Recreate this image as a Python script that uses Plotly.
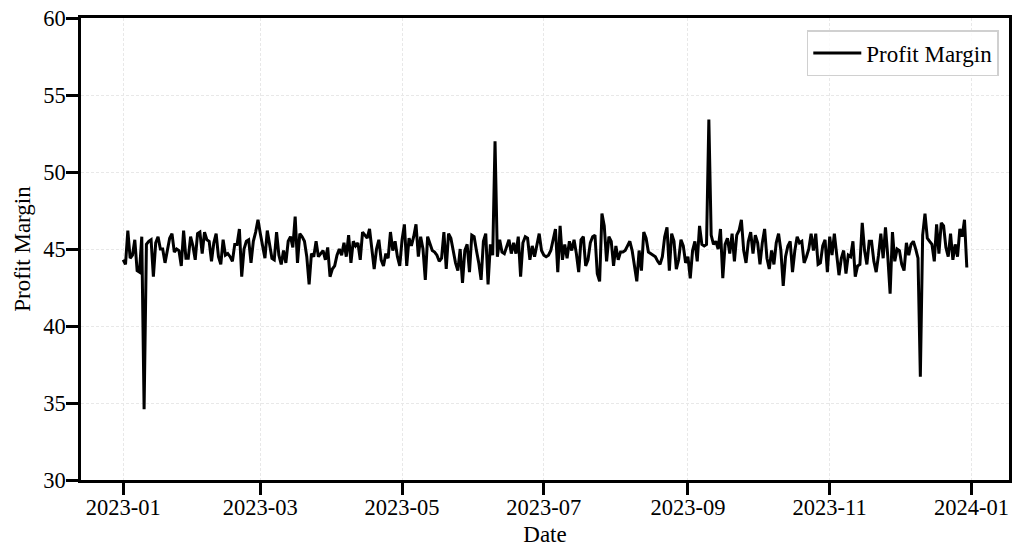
import pandas as pd
import plotly.graph_objects as go

# daily profit margin, 2023-01-01 .. 2023-12-30
start_date = "2023-01-01"
jan_feb = [44.3, 44.0, 46.2, 44.4, 44.6, 45.6, 43.6, 43.5, 45.8, 34.6,
           45.3, 45.5, 45.6, 43.2, 45.4, 45.8, 45.0, 45.0, 44.1, 44.9,
           45.7, 46.0, 44.8, 45.0, 44.9, 43.9, 46.2, 44.4, 44.4, 45.8,
           45.2, 44.3, 46.0, 46.1, 44.7, 46.1, 45.6, 45.5, 44.2, 45.4,
           46.0, 44.5, 44.0, 45.6, 44.6, 44.7, 44.5, 44.2, 45.3, 45.3,
           46.3, 43.2, 45.0, 45.5, 45.6, 44.1, 45.5, 46.1, 46.9]
mar_apr = [46.0, 45.2, 44.4, 46.2, 45.3, 44.4, 44.3, 46.1, 44.6, 44.0,
           44.9, 44.1, 45.5, 45.8, 45.1, 47.1, 44.1, 46.0, 45.8, 45.5,
           44.5, 42.7, 44.7, 44.5, 45.5, 44.5, 44.7, 44.9, 44.3, 45.1,
           43.2, 43.7, 43.9, 44.6, 45.0, 44.6, 45.4, 44.5, 45.9, 44.1,
           45.5, 45.2, 45.4, 44.3, 46.1, 45.9, 45.7, 46.3, 44.9, 43.7,
           45.0, 45.6, 44.3, 43.9, 44.7, 44.4, 46.1, 44.9, 45.5, 44.5]
may_jun = [43.9, 45.6, 46.6, 43.9, 45.7, 45.2, 45.8, 46.6, 44.5, 45.8,
           45.0, 43.0, 45.8, 45.3, 44.9, 44.8, 44.6, 44.2, 44.4, 46.1,
           43.7, 46.0, 45.7, 44.9, 44.1, 43.6, 45.0, 42.8, 44.9, 45.3,
           43.5, 45.9, 45.8, 44.9, 44.1, 43.0, 45.5, 46.0, 42.7, 45.3,
           44.6, 52.0, 44.5, 45.6, 44.8, 44.7, 45.2, 45.6, 44.7, 45.4,
           44.7, 45.8, 43.2, 45.4, 45.8, 45.7, 44.3, 45.2, 44.5, 45.3,
           46.0, 44.9]
jul_aug = [44.6, 44.5, 44.6, 44.9, 45.7, 46.3, 43.5, 46.5, 44.3, 45.3,
           44.4, 45.5, 44.9, 45.6, 44.7, 43.5, 45.6, 45.8, 43.9, 44.3,
           45.4, 45.8, 45.9, 43.4, 42.9, 47.3, 46.5, 44.2, 45.8, 45.5,
           43.9, 45.2, 44.3, 44.8, 44.8, 44.9, 45.2, 45.5, 44.9, 44.0,
           42.9, 44.9, 43.6, 46.1, 45.7, 44.8, 44.7, 44.6, 44.5, 44.2,
           44.0, 44.5, 45.8, 46.4, 43.6, 46.0, 45.5, 43.7, 44.3, 45.6,
           45.2, 44.1]
sep_oct = [44.5, 43.1, 44.9, 45.5, 44.2, 46.5, 45.3, 45.2, 45.3, 53.4,
           45.9, 45.3, 45.5, 45.0, 46.3, 43.1, 45.3, 45.7, 44.7, 46.0,
           44.2, 45.9, 46.2, 46.9, 44.9, 44.1, 45.5, 46.1, 44.7, 45.9,
           45.4, 44.0, 45.4, 46.3, 44.4, 43.7, 44.9, 44.0, 45.4, 46.0,
           44.9, 42.6, 44.5, 45.2, 45.5, 43.5, 44.9, 45.8, 45.4, 45.5,
           44.1, 44.5, 45.0, 46.0, 44.9, 46.0, 44.0, 44.1, 45.2, 45.6,
           43.5]
nov_dec = [45.8, 44.6, 46.0, 44.5, 43.3, 44.4, 44.9, 43.4, 44.6, 44.5,
           45.5, 43.2, 43.9, 44.0, 46.7, 44.9, 44.0, 45.5, 45.5, 44.2,
           43.5, 44.6, 46.0, 44.4, 46.4, 44.5, 42.1, 46.1, 44.2, 45.0,
           44.9, 44.0, 43.6, 45.4, 44.6, 45.3, 45.5, 45.0, 44.4, 36.7,
           45.9, 47.3, 45.7, 45.5, 45.3, 44.2, 46.6, 44.7, 46.7, 46.5,
           45.1, 44.5, 46.0, 44.3, 45.3, 44.5, 46.3, 45.8, 46.9, 43.8]

profit_margin = jan_feb + mar_apr + may_jun + jul_aug + sep_oct + nov_dec
dates = pd.date_range(start_date, periods=len(profit_margin), freq="D")

font = "Liberation Serif, Times New Roman, serif"

fig = go.Figure()
fig.add_trace(go.Scatter(x=dates, y=profit_margin, mode="lines",
                         name="Profit Margin",
                         line=dict(color="black", width=3)))

# matplotlib style 5% padding on the date axis
pad = (dates[-1] - dates[0]) * 0.05
fig.update_layout(
    width=1020, height=559,
    margin=dict(l=81, r=11, t=18, b=79, autoexpand=False),
    plot_bgcolor="white", paper_bgcolor="white",
    font=dict(family=font, size=22, color="black"),
    showlegend=True,
    legend=dict(x=0.989, y=0.974, xanchor="right", yanchor="top",
                bgcolor="rgba(255,255,255,0.8)", bordercolor="#d0d0d0",
                borderwidth=1.5, font=dict(size=23), itemwidth=48),
)
fig.update_xaxes(
    title=dict(text="Date", font=dict(size=23), standoff=8),
    range=[dates[0] - pad, dates[-1] + pad], automargin=True,
    tickformat="%Y-%m", dtick="M2", tick0="2023-01-01",
    tickfont=dict(size=22.5),
    ticks="outside", ticklen=12, tickwidth=2.5, tickcolor="black",
    ticklabelstandoff=-7, ticklabeloverflow="allow",
    showline=True, linecolor="black", linewidth=2.5, mirror=True,
    showgrid=True, gridcolor="#e8e8e8", gridwidth=0.7, griddash="3px,2px",
    zeroline=False,
)
fig.update_yaxes(
    title=dict(text="Profit Margin", font=dict(size=23), standoff=7),
    range=[30, 60], dtick=5, automargin=True,
    tickfont=dict(size=22.5),
    ticks="outside", ticklen=12, tickwidth=2.5, tickcolor="black",
    ticklabelstandoff=-4, ticklabeloverflow="allow",
    showline=True, linecolor="black", linewidth=2.5, mirror=True,
    showgrid=True, gridcolor="#e8e8e8", gridwidth=0.7, griddash="3px,2px",
    zeroline=False,
)

# drop the default 8px page margin so the figure sits at the window corner
fig.write_html("out.html", config={"displayModeBar": False},
               post_script="document.body.style.margin = '0';")
